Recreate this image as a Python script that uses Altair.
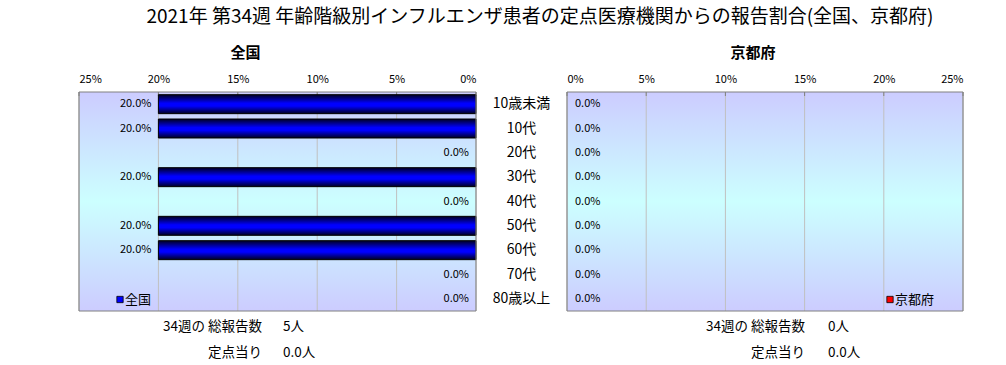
import altair as alt
import pandas as pd

categories = ["10歳未満", "10代", "20代", "30代", "40代", "50代", "60代", "70代", "80歳以上"]
national = [20.0, 20.0, 0.0, 20.0, 0.0, 20.0, 20.0, 0.0, 0.0]
kyoto = [0.0, 0.0, 0.0, 0.0, 0.0, 0.0, 0.0, 0.0, 0.0]
tick_values = [0, 5, 10, 15, 20, 25]
chart_title = "2021年 第34週 年齢階級別インフルエンザ患者の定点医療機関からの報告割合(全国、京都府)"
panel_titles = ["全国", "京都府"]
summary_labels = ["34週の 総報告数", "定点当り"]
national_summary = ["5人", "0.0人"]
kyoto_summary = ["0人", "0.0人"]

FONT = "Noto Sans CJK JP"
W_L, W_R, H = 397, 396, 219


def grad(stops):
    return alt.Gradient(
        gradient="linear", x1=0, y1=0, x2=0, y2=1,
        stops=[alt.GradientStop(color=c, offset=o) for o, c in stops],
    )


bg_fill = grad([(0, "#ccccff"), (0.5, "#ccffff"), (1, "#ccccff")])
blue_bar = grad([(0, "#000022"), (0.45, "#0000ff"), (0.6, "#0000ff"), (1, "#000022")])
red_bar = grad([(0, "#220000"), (0.45, "#ff0000"), (0.6, "#ff0000"), (1, "#220000")])


def panel(values, title, reverse, bar_fill, legend_color, legend_name,
          legend_x, summary_vals, sum_label_x, sum_val_x, title_dx, left):
    W = W_L if left else W_R
    df = pd.DataFrame({"cat": categories, "v": values,
                       "label": [f"{v:.1f}%" for v in values]})
    tdf = pd.DataFrame({"t": tick_values})
    one = pd.DataFrame({"a": [0]})
    xscale = alt.Scale(domain=[0, 25], reverse=reverse, nice=False)
    xaxis = alt.Axis(orient="top", values=tick_values, labelExpr="datum.value + '%'",
                     grid=False, domain=False, ticks=False, tickSize=0,
                     labelPadding=8, labelFontSize=11, labelFont=FONT,
                     labelColor="black", title=None)
    if left:
        yaxis = alt.Axis(orient="right", title=None, ticks=False, tickSize=0,
                         domain=False, labelAlign="center", labelPadding=45,
                         labelFontSize=14, labelFont=FONT, labelColor="black")
    else:
        yaxis = None
    yscale = alt.Scale(domain=categories, paddingInner=0.22, paddingOuter=0.11)

    bg = alt.Chart(one).mark_rect(fill=bg_fill, stroke=None).encode(
        x=alt.X(datum=0, scale=xscale, axis=xaxis),
        x2=alt.X2(datum=25),
        y=alt.value(0), y2=alt.value(H),
    )
    grid = alt.Chart(tdf).mark_rule(color="#c0c0c0", strokeWidth=1).encode(
        x=alt.X("t:Q", scale=xscale, axis=xaxis),
        y=alt.value(0), y2=alt.value(H),
    )
    topticks = alt.Chart(tdf).mark_rule(color="#808080", strokeWidth=1).encode(
        x=alt.X("t:Q", scale=xscale, axis=xaxis),
        y=alt.value(0), y2=alt.value(4),
    )
    bars = alt.Chart(df).transform_filter("datum.v > 0").mark_bar(
        fill=bar_fill, stroke="black", strokeWidth=1, opacity=1
    ).encode(
        x=alt.X("v:Q", scale=xscale, axis=xaxis),
        y=alt.Y("cat:N", scale=yscale, axis=yaxis, sort=categories),
    )
    labels = alt.Chart(df).mark_text(
        align="right" if left else "left", dx=-7 if left else 8,
        fontSize=11, font=FONT, color="black", baseline="middle",
    ).encode(
        x=alt.X("v:Q", scale=xscale, axis=xaxis),
        y=alt.Y("cat:N", scale=yscale, axis=yaxis, sort=categories),
        text="label:N",
    )
    border = alt.Chart(one).mark_rect(filled=False, stroke="#808080", strokeWidth=1, fill=None).encode(
        x=alt.X(datum=0, scale=xscale, axis=xaxis),
        x2=alt.X2(datum=25),
        y=alt.value(0), y2=alt.value(H),
    )
    leg_sq = alt.Chart(one).mark_square(size=40, fill=legend_color, stroke="black",
                                        strokeWidth=0.8, opacity=1).encode(
        x=alt.value(legend_x), y=alt.value(207.5))
    leg_tx = alt.Chart(one).mark_text(align="left", baseline="middle", fontSize=13,
                                      font=FONT, color="black", text=legend_name).encode(
        x=alt.value(legend_x + 5), y=alt.value(207.5))
    layers = [bg, grid, topticks, bars, labels, border, leg_sq, leg_tx]
    for i, (lab, val) in enumerate(zip(summary_labels, summary_vals)):
        yy = 235 + 26 * i
        layers.append(alt.Chart(one).mark_text(
            align="right", baseline="middle", fontSize=13.5, font=FONT, color="black",
            text=lab).encode(x=alt.value(sum_label_x), y=alt.value(yy)))
        layers.append(alt.Chart(one).mark_text(
            align="left", baseline="middle", fontSize=13.5, font=FONT, color="black",
            text=val).encode(x=alt.value(sum_val_x), y=alt.value(yy)))
    return alt.layer(*layers).properties(
        width=W, height=H,
        title=alt.TitleParams(title, fontSize=15, font=FONT, fontWeight="bold",
                              color="black", offset=12, dx=title_dx, anchor="middle"),
    )


left = panel(national, panel_titles[0], True, blue_bar, "#0000ff", "全国",
             41, national_summary, 183, 204, -32, True)
right = panel(kyoto, panel_titles[1], False, red_bar, "#ff0000", "京都府",
              323, kyoto_summary, 238, 261, -12, False)

chart = alt.hconcat(left, right, spacing=91, bounds="flush").properties(
    title=alt.TitleParams(chart_title, fontSize=19, font=FONT, fontWeight="normal",
                          color="black", anchor="middle", offset=19, dx=19),
    padding={"left": 78, "top": 8, "right": 5, "bottom": 5},
    background="white",
).configure_view(stroke=None).configure_axis(labelFont=FONT)

chart.save("out.html", embed_options={"renderer": "svg", "actions": False})
